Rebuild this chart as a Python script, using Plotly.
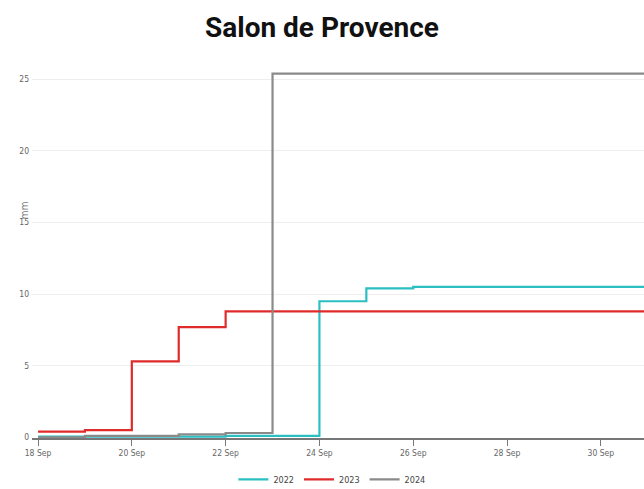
import plotly.graph_objects as go

dates = ["2024-09-18", "2024-09-19", "2024-09-20", "2024-09-21", "2024-09-22",
         "2024-09-23", "2024-09-24", "2024-09-25", "2024-09-26", "2024-09-27",
         "2024-09-28", "2024-09-29", "2024-09-30", "2024-10-01"]
rain_2022 = [0.05, 0.05, 0.05, 0.05, 0.1, 0.1, 9.5, 10.4, 10.5, 10.5, 10.5, 10.5, 10.5, 10.5]
rain_2023 = [0.4, 0.5, 5.3, 7.7, 8.8, 8.8, 8.8, 8.8, 8.8, 8.8, 8.8, 8.8, 8.8, 8.8]
rain_2024 = [0.0, 0.1, 0.1, 0.2, 0.3, 25.4, 25.4, 25.4, 25.4, 25.4, 25.4, 25.4, 25.4, 25.4]
series_names = ["2022", "2023", "2024"]
colors = ["#2bbfc2", "#e02b2b", "#8a8a8a"]

tick_vals = ["2024-09-18", "2024-09-20", "2024-09-22", "2024-09-24",
             "2024-09-26", "2024-09-28", "2024-09-30"]
tick_text = ["18 Sep", "20 Sep", "22 Sep", "24 Sep", "26 Sep", "28 Sep", "30 Sep"]

fig = go.Figure()
for name, vals, c in zip(series_names, [rain_2022, rain_2023, rain_2024], colors):
    fig.add_trace(go.Scatter(x=dates, y=vals, name=name, mode="lines",
                             line=dict(color=c, width=2.2, shape="hv")))

small = "DejaVu Sans Condensed, Liberation Sans Narrow, sans-serif"
tickfont = dict(family=small, size=8.5, color="#666")

fig.update_layout(
    width=644, height=489,
    paper_bgcolor="white", plot_bgcolor="white",
    margin=dict(l=32, r=0, t=65, b=51, autoexpand=False),
    title=dict(text="<b>Salon de Provence</b>", x=0.5, xanchor="center", y=1 - 27 / 489, yanchor="middle",
               font=dict(family="Roboto, sans-serif", size=28, color="#111")),
    xaxis=dict(range=["2024-09-17 20:55", "2024-09-30 22:05"], tickvals=tick_vals, ticktext=tick_text,
               showgrid=False, showline=True, linecolor="#777", linewidth=1.5,
               ticks="outside", ticklen=6, tickcolor="#777", tickfont=tickfont, zeroline=False),
    yaxis=dict(range=[-0.05, 26], tickvals=[0, 5, 10, 15, 20, 25], showgrid=True,
               gridcolor="#eeeeee", zeroline=False, showline=False, tickfont=tickfont,
               ticks="", ticklabelstandoff=2),
    legend=dict(orientation="h", x=0.49, xanchor="center", y=-0.072, yanchor="top",
                font=dict(family=small, size=9, color="#444"),
                itemwidth=30, tracegroupgap=0),
    showlegend=True,
)
fig.add_annotation(text="mm", textangle=-90, xref="paper", yref="paper", x=-0.012, y=0.61,
                   showarrow=False, xanchor="center", yanchor="middle",
                   font=dict(family=small, size=10, color="#777"))

fig.write_html("out.html", config={"displayModeBar": False},
               post_script="document.body.style.margin='0';document.body.style.overflow='hidden';")
